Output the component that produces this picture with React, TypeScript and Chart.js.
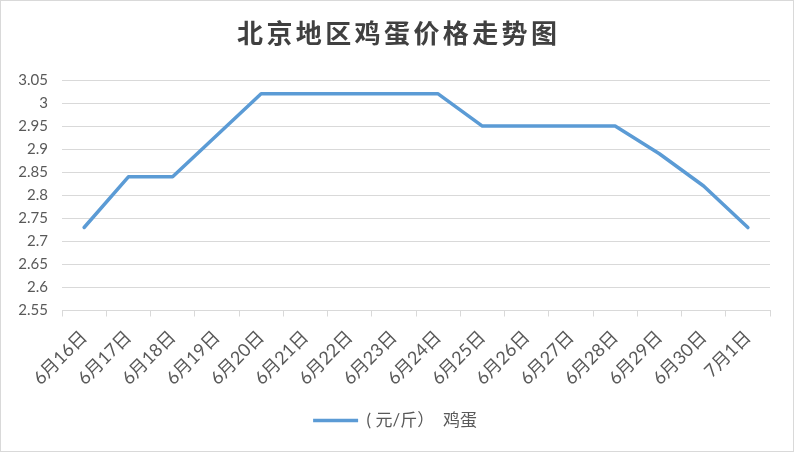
import React, { useEffect, useRef } from "react";
import { Chart, registerables } from "chart.js";

Chart.register(...registerables);

const title = "北京地区鸡蛋价格走势图";
const categories = [
  "6月16日", "6月17日", "6月18日", "6月19日", "6月20日", "6月21日", "6月22日", "6月23日",
  "6月24日", "6月25日", "6月26日", "6月27日", "6月28日", "6月29日", "6月30日", "7月1日",
];
const seriesLabel = "( 元/斤）  鸡蛋";
const prices = [2.73, 2.84, 2.84, 2.93, 3.02, 3.02, 3.02, 3.02, 3.02, 2.95, 2.95, 2.95, 2.95, 2.89, 2.82, 2.73];
const yMin = 2.55;
const yMax = 3.05;
const yStep = 0.05;

const FONT = '"Lato", "Noto Sans CJK SC", sans-serif';

const decorPlugin = {
  id: "decor",
  afterDraw(chart: any) {
    const { ctx, width, height } = chart;
    ctx.save();
    ctx.strokeStyle = "#d9d9d9";
    ctx.lineWidth = 1;
    ctx.strokeRect(0.5, 0.5, width - 1, height - 1);
    const spacing = 3.4;
    ctx.font = 'bold 26px "Noto Sans CJK SC", sans-serif';
    (ctx as any).letterSpacing = spacing + "px";
    ctx.fillStyle = "#404040";
    ctx.textAlign = "center";
    ctx.textBaseline = "middle";
    ctx.fillText(title, width / 2 + spacing / 2, 33);
    ctx.restore();
  },
};

export default function App() {
  const ref = useRef<HTMLCanvasElement | null>(null);
  useEffect(() => {
    document.body.style.margin = "0";
    const canvas = ref.current;
    if (!canvas) return;
    const chart = new Chart(canvas, {
      type: "line",
      data: {
        labels: categories,
        datasets: [
          {
            label: seriesLabel,
            data: prices,
            borderColor: "#5b9bd5",
            backgroundColor: "#5b9bd5",
            borderWidth: 3.5,
            pointRadius: 0,
            pointHoverRadius: 0,
            tension: 0,
            borderCapStyle: "round",
            borderJoinStyle: "round",
            pointStyle: "line",
            yAxisID: "y",
          },
        ],
      },
      options: {
        animation: false,
        responsive: false,
        maintainAspectRatio: false,
        layout: { padding: { left: 0, right: 4, top: 80, bottom: 13 } },
        plugins: {
          title: { display: false },
          legend: {
            display: true,
            position: "bottom",
            labels: {
              usePointStyle: true,
              pointStyle: "line",
              pointStyleWidth: 45,
              color: "#595959",
              font: { family: FONT, size: 17 },
              padding: 10,
            },
          },
          tooltip: { enabled: false },
        },
        scales: {
          x: {
            offset: true,
            grid: {
              display: true,
              offset: true,
              drawOnChartArea: false,
              drawTicks: true,
              tickLength: 6,
              color: "#d9d9d9",
              lineWidth: 1,
            },
            border: { display: true, color: "#d9d9d9", width: 1 },
            ticks: {
              color: "#595959",
              font: { family: FONT, size: 18 },
              minRotation: 45,
              maxRotation: 45,
              autoSkip: false,
              padding: 10,
            },
            afterFit(scale: any) {
              scale.height = 91.5;
            },
          },
          y: {
            min: yMin,
            max: yMax,
            grid: { color: "#d9d9d9", lineWidth: 1, drawTicks: false },
            border: { display: false },
            ticks: {
              stepSize: yStep,
              color: "#595959",
              font: { family: FONT, size: 15 },
              padding: 14,
              callback: (v: any) => String(Math.round(Number(v) * 100) / 100),
            },
            afterFit(scale: any) {
              scale.width = 62;
            },
          },
          yRight: {
            type: "linear",
            position: "right",
            display: true,
            min: yMin,
            max: yMax,
            grid: { display: false, drawOnChartArea: false },
            border: { display: false },
            ticks: { display: false },
            afterFit(scale: any) {
              scale.width = 20;
            },
          },
        },
      },
      plugins: [decorPlugin],
    });
    return () => chart.destroy();
  }, []);
  return (
    <div style={{ width: 794, height: 452 }}>
      <canvas ref={ref} width={794} height={452} style={{ display: "block", width: 794, height: 452 }} />
    </div>
  );
}
